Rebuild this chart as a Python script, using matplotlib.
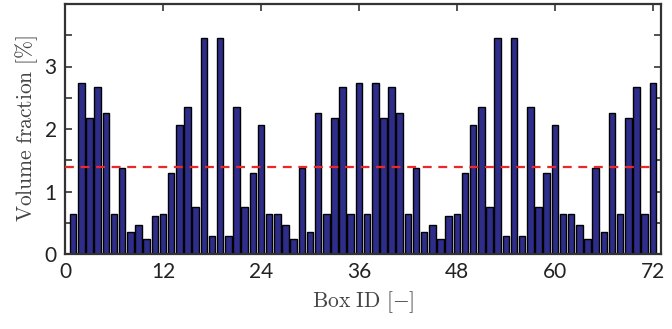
import numpy as np
import matplotlib.pyplot as plt

plt.rcParams['mathtext.fontset'] = 'cm'

# volume fraction of each box [%]
box_ids = np.arange(1, 73)
volume_fraction = [
    0.645, 2.735, 2.18, 2.67, 2.26, 0.645, 1.37, 0.35, 0.465, 0.235, 0.61, 0.645,
    1.29, 2.06, 2.35, 0.76, 3.46, 0.29, 3.46, 0.29, 2.35, 0.76, 1.29, 2.06,
    0.645, 0.645, 0.465, 0.235, 1.37, 0.35, 2.26, 0.645, 2.18, 2.67, 0.645, 2.735,
    0.645, 2.735, 2.18, 2.67, 2.26, 0.645, 1.37, 0.35, 0.465, 0.235, 0.61, 0.645,
    1.29, 2.06, 2.35, 0.76, 3.46, 0.29, 3.46, 0.29, 2.35, 0.76, 1.29, 2.06,
    0.645, 0.645, 0.465, 0.235, 1.37, 0.35, 2.26, 0.645, 2.18, 2.67, 0.645, 2.735,
]
uniform_fraction = 100.0 / 72

x_ticks = [0, 12, 24, 36, 48, 60, 72]
y_ticks = [0, 1, 2, 3]

fig = plt.figure(figsize=(6.72, 3.29), dpi=100)
ax = fig.add_axes([65 / 672, 1 - 254 / 329, 596 / 672, 250 / 329])

ax.bar(box_ids, volume_fraction, width=0.8, color='#2e2e8a',
       edgecolor='black', linewidth=1.0, zorder=2)
ax.hlines(uniform_fraction, 0, 72, colors='#e8282a', linestyles=(0, (4, 3)),
          linewidth=1.6, zorder=3)

ax.set_xlim(0, 73)
ax.set_ylim(0, 4)
ax.set_xticks(x_ticks)
ax.set_yticks(y_ticks)
ax.set_yticks(np.arange(0.5, 4, 1.0), minor=True)
tick_font = dict(family='Lato', size=15, color='#222222')
ax.set_xticklabels([str(t) for t in x_ticks], **tick_font)
ax.set_yticklabels([str(t) for t in y_ticks], **tick_font)
ax.tick_params(which='both', direction='in', top=True, right=True,
               length=5, width=1.2, color='#333333', pad=6)

for spine in ax.spines.values():
    spine.set_color('#333333')
    spine.set_linewidth(1.6)

ax.set_xlabel(r'$\mathrm{Box\ ID\ [-]}$', fontsize=15.5, color='#444444', labelpad=5)
ax.set_ylabel(r'$\mathrm{Volume\ fraction\ [\%]}$', fontsize=15.5, color='#444444', labelpad=3)

fig.savefig('out.png', dpi=100)
